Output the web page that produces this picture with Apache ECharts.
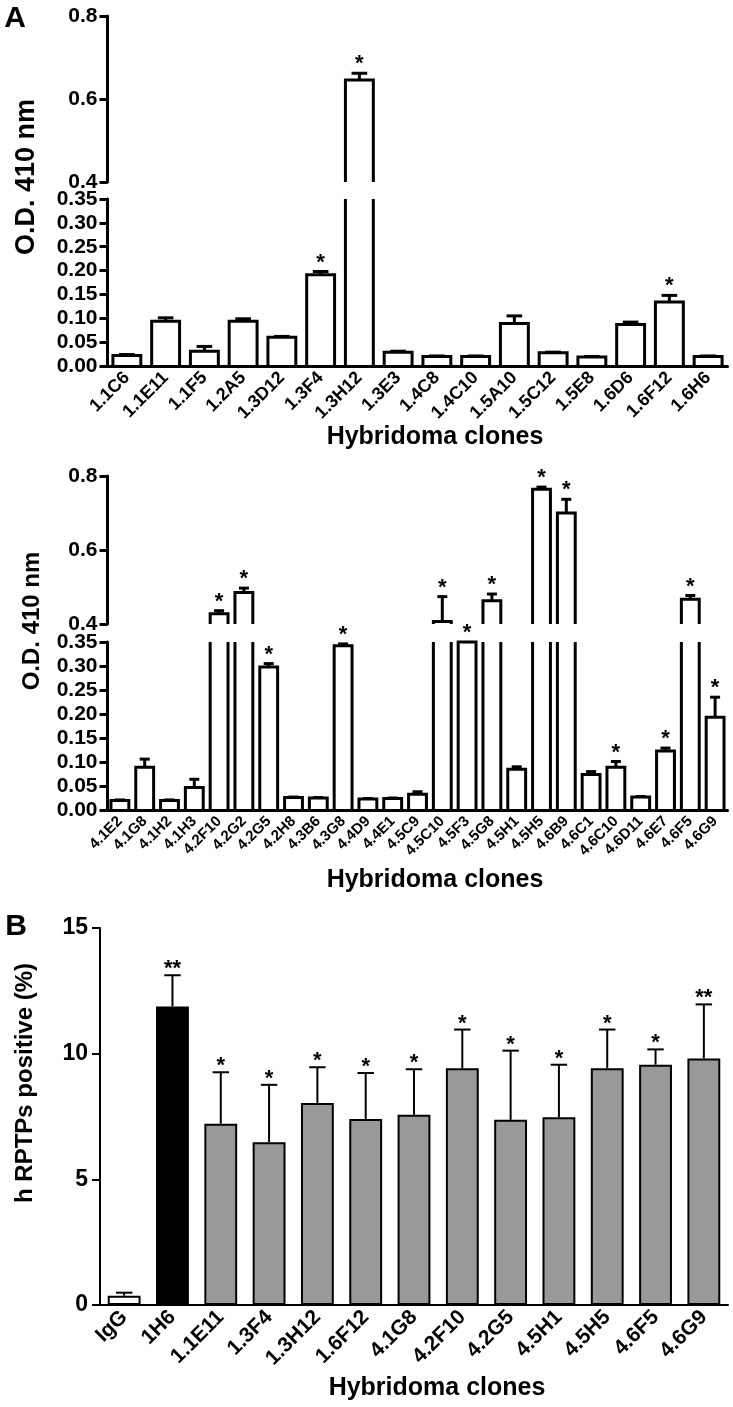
<!DOCTYPE html>
<html>
<head>
<meta charset="utf-8">
<script src="https://cdn.jsdelivr.net/npm/echarts@6/dist/echarts.min.js"></script>
<style>
  html, body { margin: 0; padding: 0; background: #fff; }
  #chart { width: 733px; height: 1407px; }
</style>
</head>
<body>
<div id="chart"></div>
<script>
const FONT = '"Liberation Sans", Arial, Helvetica, sans-serif';

// Panel A, first screen (O.D. 410 nm, mean and SEM)
const clonesA1 = ['1.1C6', '1.1E11', '1.1F5', '1.2A5', '1.3D12', '1.3F4', '1.3H12', '1.3E3',
  '1.4C8', '1.4C10', '1.5A10', '1.5C12', '1.5E8', '1.6D6', '1.6F12', '1.6H6'];
const odA1 = [0.022, 0.094, 0.031, 0.094, 0.060, 0.191, 0.646, 0.029,
  0.020, 0.020, 0.089, 0.028, 0.019, 0.087, 0.134, 0.020];
const semA1 = [0.002, 0.007, 0.010, 0.005, 0.002, 0.007, 0.016, 0.002,
  0.001, 0.001, 0.016, 0.001, 0.001, 0.005, 0.014, 0.001];
const sigA1 = ['', '', '', '', '', '*', '*', '', '', '', '', '', '', '', '*', ''];

// Panel A, second screen
const clonesA2 = ['4.1E2', '4.1G8', '4.1H2', '4.1H3', '4.2F10', '4.2G2', '4.2G5', '4.2H8', '4.3B6',
  '4.3G8', '4.4D9', '4.4E1', '4.5C9', '4.5C10', '4.5F3', '4.5G8', '4.5H1', '4.5H5', '4.6B9',
  '4.6C1', '4.6C10', '4.6D11', '4.6E7', '4.6F5', '4.6G9'];
const odA2 = [0.020, 0.089, 0.020, 0.047, 0.428, 0.485, 0.298, 0.026, 0.025,
  0.342, 0.023, 0.024, 0.033, 0.407, 0.350, 0.463, 0.085, 0.764, 0.700,
  0.074, 0.089, 0.027, 0.123, 0.467, 0.193];
const semA2 = [0.001, 0.017, 0.001, 0.017, 0.008, 0.012, 0.007, 0.001, 0.001,
  0.004, 0.001, 0.001, 0.005, 0.067, 0.000, 0.018, 0.005, 0.006, 0.037,
  0.006, 0.012, 0.001, 0.006, 0.010, 0.042];
const sigA2 = ['', '', '', '', '*', '*', '*', '', '', '*', '', '', '', '*', '*', '*', '', '*', '*',
  '', '*', '', '*', '*', '*'];

// Panel B (h RPTPs positive, %)
const clonesB = ['IgG', '1H6', '1.1E11', '1.3F4', '1.3H12', '1.6F12', '4.1G8', '4.2F10',
  '4.2G5', '4.5H1', '4.5H5', '4.6F5', '4.6G9'];
const pctB = [0.37, 11.88, 7.21, 6.48, 8.04, 7.40, 7.57, 9.42, 7.37, 7.47, 9.42, 9.56, 9.81];
const sdB = [0.12, 1.24, 2.05, 2.28, 1.42, 1.83, 1.81, 1.54, 2.75, 2.09, 1.54, 0.61, 2.15];
const sigB = ['', '**', '*', '*', '*', '*', '*', '*', '*', '*', '*', '*', '**'];

// axis break points for panel A
const LOW_MAX = 0.35;
const UP_MIN = 0.4;
const UP_MAX = 0.8;

const chart = echarts.init(document.getElementById('chart'));

function seg(x1, y1, x2, y2, lw) {
  return { type: 'line', shape: { x1, y1, x2, y2 }, style: { stroke: '#000', lineWidth: lw } };
}

function star(s, x, y, size) {
  return {
    type: 'text',
    style: { text: s, x, y, align: 'center', verticalAlign: 'middle', font: 'bold ' + size + 'px ' + FONT, fill: '#000' }
  };
}

// open-ended outline bars so the broken axis reads like the original
function odBars(sig, part) {
  return function (params, api) {
    const i = api.value(0), v = api.value(1), e = api.value(2);
    if (part === 'up' && v <= UP_MIN) return;
    const cs = params.coordSys;
    const base = cs.y + cs.height;
    const w = api.size([1, 0])[0] * 0.72;
    const x = api.coord([i, v])[0];
    const x0 = x - w / 2, x1 = x + w / 2;
    const kids = [];
    if (part === 'low' && v > LOW_MAX) {
      kids.push(seg(x0, base, x0, cs.y, 3), seg(x1, base, x1, cs.y, 3));
    } else {
      const yt = api.coord([i, v])[1];
      const ye = api.coord([i, v + e])[1];
      kids.push({
        type: 'polyline',
        shape: { points: [[x0, base], [x0, yt], [x1, yt], [x1, base]] },
        style: { stroke: '#000', lineWidth: 3, fill: null, lineJoin: 'miter' }
      });
      if (e > 0) kids.push(seg(x, yt, x, ye, 3), seg(x - w * 0.28, ye, x + w * 0.28, ye, 3));
      if (sig[params.dataIndex]) kids.push(star(sig[params.dataIndex], x, ye - 9, 22));
    }
    return { type: 'group', children: kids };
  };
}

function errB(params, api) {
  const i = api.value(0), v = api.value(1), e = api.value(2);
  const w = api.size([1, 0])[0] * 0.68;
  const p = api.coord([i, v]);
  const ye = api.coord([i, v + e])[1];
  const kids = [seg(p[0], p[1], p[0], ye, 2), seg(p[0] - w * 0.25, ye, p[0] + w * 0.25, ye, 2)];
  if (sigB[params.dataIndex]) kids.push(star(sigB[params.dataIndex], p[0], ye - 6, 22));
  return { type: 'group', children: kids };
}

const axisLine = { lineStyle: { color: '#000', width: 3 } };
const axisTick = { length: 8, lineStyle: { color: '#000', width: 3 } };

function catAxis(grid, data, show, size) {
  return {
    type: 'category', gridIndex: grid, data, show,
    axisLine: { onZero: false, lineStyle: { color: '#000', width: grid === 4 ? 2 : 3 } },
    axisTick: { alignWithLabel: true, interval: 0, length: 8, lineStyle: { color: '#000', width: grid === 4 ? 2 : 3 } },
    axisLabel: { interval: 0, rotate: 45, margin: 9, color: '#000', fontWeight: 'bold', fontSize: size, fontFamily: FONT }
  };
}

function valAxis(grid, min, max, step, digits) {
  return {
    type: 'value', gridIndex: grid, min, max, interval: step,
    splitLine: { show: false },
    axisLine: { show: true, ...axisLine },
    axisTick: { show: true, ...axisTick },
    axisLabel: { margin: 10, color: '#000', fontWeight: 'bold', fontSize: 21, fontFamily: FONT,
      formatter: v => v.toFixed(digits) }
  };
}

const rows = (m, s) => m.map((v, i) => [i, v, s[i]]);

const option = {
  animation: false,
  backgroundColor: '#fff',
  grid: [
    { left: 107.5, top: 16, width: 620, height: 166 },
    { left: 107.5, top: 199, width: 620, height: 167 },
    { left: 107.5, top: 476, width: 620, height: 148 },
    { left: 107.5, top: 642, width: 620, height: 168 },
    { left: 100, top: 928, width: 628, height: 377 }
  ],
  xAxis: [
    catAxis(0, clonesA1, false, 18),
    catAxis(1, clonesA1, true, 18),
    catAxis(2, clonesA2, false, 15),
    catAxis(3, clonesA2, true, 15),
    catAxis(4, clonesB, true, 21)
  ],
  yAxis: [
    valAxis(0, UP_MIN, UP_MAX, 0.2, 1),
    valAxis(1, 0, LOW_MAX, 0.05, 2),
    valAxis(2, UP_MIN, UP_MAX, 0.2, 1),
    valAxis(3, 0, LOW_MAX, 0.05, 2),
    {
      type: 'value', gridIndex: 4, min: 0, max: 15, interval: 5,
      splitLine: { show: false },
      axisLine: { show: true, lineStyle: { color: '#000', width: 2 } },
      axisTick: { show: true, length: 8, lineStyle: { color: '#000', width: 2 } },
      axisLabel: { margin: 12, color: '#000', fontWeight: 'bold', fontSize: 23, fontFamily: FONT }
    }
  ],
  series: [
    { type: 'custom', xAxisIndex: 0, yAxisIndex: 0, data: rows(odA1, semA1), renderItem: odBars(sigA1, 'up'), clip: false },
    { type: 'custom', xAxisIndex: 1, yAxisIndex: 1, data: rows(odA1, semA1), renderItem: odBars(sigA1, 'low'), clip: false },
    { type: 'custom', xAxisIndex: 2, yAxisIndex: 2, data: rows(odA2, semA2), renderItem: odBars(sigA2, 'up'), clip: false },
    { type: 'custom', xAxisIndex: 3, yAxisIndex: 3, data: rows(odA2, semA2), renderItem: odBars(sigA2, 'low'), clip: false },
    {
      type: 'bar', xAxisIndex: 4, yAxisIndex: 4, data: pctB, barWidth: '68%',
      itemStyle: {
        borderColor: '#000', borderWidth: 2,
        color: p => (p.dataIndex === 0 ? '#fff' : p.dataIndex === 1 ? '#000' : '#999')
      }
    },
    { type: 'custom', xAxisIndex: 4, yAxisIndex: 4, data: rows(pctB, sdB), renderItem: errB, clip: false, z: 3 }
  ],
  graphic: [
    { type: 'text', x: 15, y: 19, style: { text: 'A', font: 'bold 30px ' + FONT, align: 'center', verticalAlign: 'middle', fill: '#000' } },
    { type: 'text', x: 16, y: 927, style: { text: 'B', font: 'bold 30px ' + FONT, align: 'center', verticalAlign: 'middle', fill: '#000' } },
    { type: 'text', x: 27, y: 177, rotation: Math.PI / 2, style: { text: 'O.D. 410 nm', font: 'bold 27px ' + FONT, align: 'center', verticalAlign: 'middle', fill: '#000' } },
    { type: 'text', x: 32, y: 621, rotation: Math.PI / 2, style: { text: 'O.D. 410 nm', font: 'bold 24px ' + FONT, align: 'center', verticalAlign: 'middle', fill: '#000' } },
    { type: 'text', x: 25, y: 1083, rotation: Math.PI / 2, style: { text: 'h RPTPs positive (%)', font: 'bold 24px ' + FONT, align: 'center', verticalAlign: 'middle', fill: '#000' } },
    { type: 'text', x: 435, y: 437, style: { text: 'Hybridoma clones', font: 'bold 25px ' + FONT, align: 'center', verticalAlign: 'middle', fill: '#000' } },
    { type: 'text', x: 435, y: 880, style: { text: 'Hybridoma clones', font: 'bold 25px ' + FONT, align: 'center', verticalAlign: 'middle', fill: '#000' } },
    { type: 'text', x: 437, y: 1388, style: { text: 'Hybridoma clones', font: 'bold 25px ' + FONT, align: 'center', verticalAlign: 'middle', fill: '#000' } }
  ]
};

chart.setOption(option);
</script>
</body>
</html>
